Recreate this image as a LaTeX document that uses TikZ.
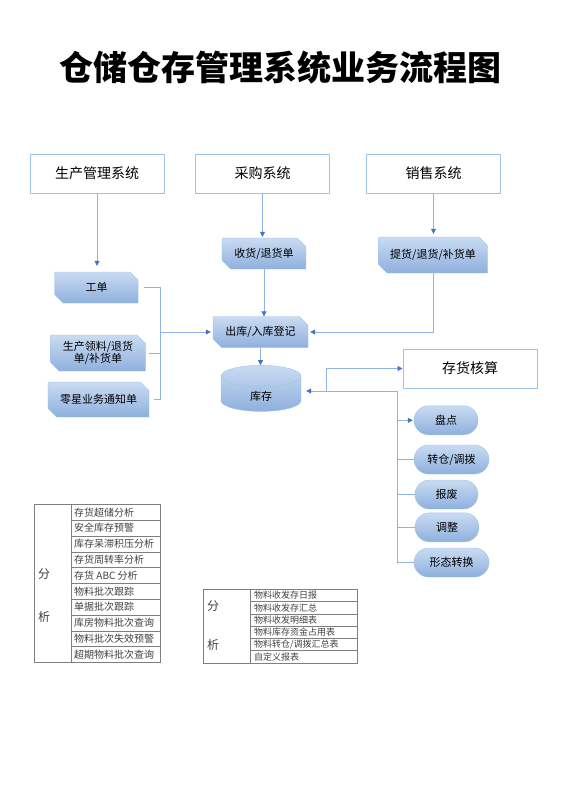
\documentclass[tikz,border=0pt]{standalone}
\usepackage{fontspec}
\setmainfont{Noto Sans CJK SC}
\usetikzlibrary{positioning,shapes.misc,shapes.geometric,arrows.meta}
\definecolor{boxline}{HTML}{9DC3E6}
\definecolor{boxtop}{HTML}{CADBF2}
\definecolor{boxbot}{HTML}{8EB0DD}
\definecolor{flowline}{HTML}{8EB4E3}
\definecolor{tipblue}{HTML}{4472C4}
\definecolor{tabline}{HTML}{7F7F7F}
\definecolor{tabtext}{HTML}{404040}
\tikzset{
  sysbox/.style={draw=boxline,line width=1pt,fill=white,minimum width=134pt,minimum height=39pt,
    font=\fontsize{14}{16}\selectfont},
  docbox/.style={chamfered rectangle,chamfered rectangle corners={north east,south west},
    chamfered rectangle xsep=5pt,draw=boxline,top color=boxtop,bottom color=boxbot,
    inner sep=0pt,align=center,font=\fontsize{11}{12}\selectfont},
  opbox/.style={rounded rectangle,draw=boxline,top color=boxtop,bottom color=boxbot,
    minimum height=29pt,inner sep=0pt,font=\fontsize{11}{12}\selectfont},
  flow/.style={draw=flowline,line width=0.8pt},
  arr/.style={flow,-{Triangle[width=5pt,length=5pt,color=tipblue]}},
  tabrow/.style={anchor=west,inner sep=0pt,text=tabtext},
}
\begin{document}
\begin{tikzpicture}[x=1pt,y=-1pt]
\useasboundingbox (0,0) rectangle (560,792);

\node (title) at (280,68) {\fontsize{34}{36}\bfseries 仓储仓存管理系统业务流程图};

% systems
\node[sysbox] (sc) at (97,173.5) {生产管理系统};
\node[sysbox] (cg) at (262.5,173.5) {采购系统};
\node[sysbox] (xs) at (433.5,173.5) {销售系统};

% documents
\node[docbox,minimum width=84pt,minimum height=31pt] (gd) at (96.5,287.5) {工单};
\node[docbox,minimum width=84pt,minimum height=31pt] (sh) at (264,253.5) {收货/退货单};
\node[docbox,minimum width=109pt,minimum height=36pt] (th) at (433,255) {提货/退货/补货单};
\node[docbox,minimum width=95pt,minimum height=36pt] (ll) at (98,353) {生产领料/退货\\单/补货单};
\node[docbox,minimum width=101pt,minimum height=35pt] (lx) at (98.5,399.5) {零星业务通知单};
\node[docbox,minimum width=95pt,minimum height=31pt] (ck) at (260.5,332) {出库/入库登记};

\node[cylinder,shape border rotate=90,aspect=0.75,minimum width=80pt,minimum height=46pt,
  draw=boxline,top color=boxtop,bottom color=boxbot,font=\fontsize{11}{12}\selectfont] (kc) at (261,396) {库存};

\node[sysbox,minimum width=134pt] (hs) at (470,368.5) {存货核算};

% operations
\node[opbox,minimum width=64pt] (pd) at (446,420.3) {盘点};
\node[opbox,minimum width=75pt] (zc) at (451.5,459.5) {转仓/调拨};
\node[opbox,minimum width=63pt] (bf) at (446.5,494.5) {报废};
\node[opbox,minimum width=64pt] (tz) at (447,527.3) {调整};
\node[opbox,minimum width=75pt] (xt) at (451.5,562.5) {形态转换};

% connectors
\draw[arr,shorten >=6pt] (sc.south) -- (sc.south |- gd.north);
\draw[arr,shorten >=1pt] (cg.south) -- (cg.south |- sh.north);
\draw[arr,shorten >=3pt] (xs.south) -- (xs.south |- th.north);
\draw[arr] (sh.south) -- (sh.south |- ck.north);
\draw[arr] (ck.south) -- (ck.south |- kc.north);
\draw[arr,shorten >=2pt] (th.south) |- (ck.east);

\coordinate (jl) at (160,332);
\draw[flow,shorten <=5pt] (gd.east) -| (jl);
\draw[flow,shorten <=3pt] (ll.east) -- (ll.east -| jl);
\draw[flow,shorten <=5pt] (lx.east) -| (jl);
\draw[arr,shorten >=2pt] (jl) -- (ck.west);

\coordinate (jr) at (397.3,391);
\coordinate (jk) at (326.7,391);
\draw[arr,shorten >=5pt] (jr) -- (kc.east |- jr);
\draw[arr] (jk) |- (hs.west);
\draw[flow] (jr) |- (xt.west);
\draw[arr,shorten >=1pt] (jr |- pd.west) -- (pd.west);
\draw[flow] (jr |- zc.west) -- (zc.west);
\draw[flow] (jr |- bf.west) -- (bf.west);
\draw[flow] (jr |- tz.west) -- (tz.west);

% analysis table 1
\draw[tabline] (34,504.3) rectangle (160,662.3);
\draw[tabline] (70.7,504.3) -- (70.7,662.3);
\foreach \i in {1,...,9}
  \draw[tabline] (70.7,{504.3+\i*15.8}) -- (160,{504.3+\i*15.8});
\node[text=tabtext,font=\fontsize{12}{14}\selectfont] (fa) at (44,574) {分};
\node[text=tabtext,font=\fontsize{12}{14}\selectfont] (xa) at (44,616.7) {析};
\foreach \t [count=\i] in {存货超储分析,安全库存预警,库存呆滞积压分析,存货周转率分析,存货 ABC 分析,
  物料批次跟踪,单据批次跟踪,库房物料批次查询,物料批次失效预警,超期物料批次查询}
  \node[tabrow,font=\fontsize{10}{11}\selectfont] (ra\i) at (74,{504.3+(\i-0.5)*15.8}) {\t};

% analysis table 2
\draw[tabline] (203.3,589.3) rectangle (356.7,662.7);
\draw[tabline] (250,589.3) -- (250,662.7);
\foreach \i in {1,...,5}
  \draw[tabline] (250,{589.3+\i*12.23}) -- (356.7,{589.3+\i*12.23});
\node[text=tabtext,font=\fontsize{12}{14}\selectfont] (fb) at (213,606) {分};
\node[text=tabtext,font=\fontsize{12}{14}\selectfont] (xb) at (213,645) {析};
\foreach \t [count=\i] in {物料收发存日报,物料收发存汇总,物料收发明细表,物料库存资金占用表,
  物料转仓/调拨汇总表,自定义报表}
  \node[tabrow,font=\fontsize{9}{10}\selectfont] (rb\i) at (254,{589.3+(\i-0.5)*12.23}) {\t};
\end{tikzpicture}
\end{document}
